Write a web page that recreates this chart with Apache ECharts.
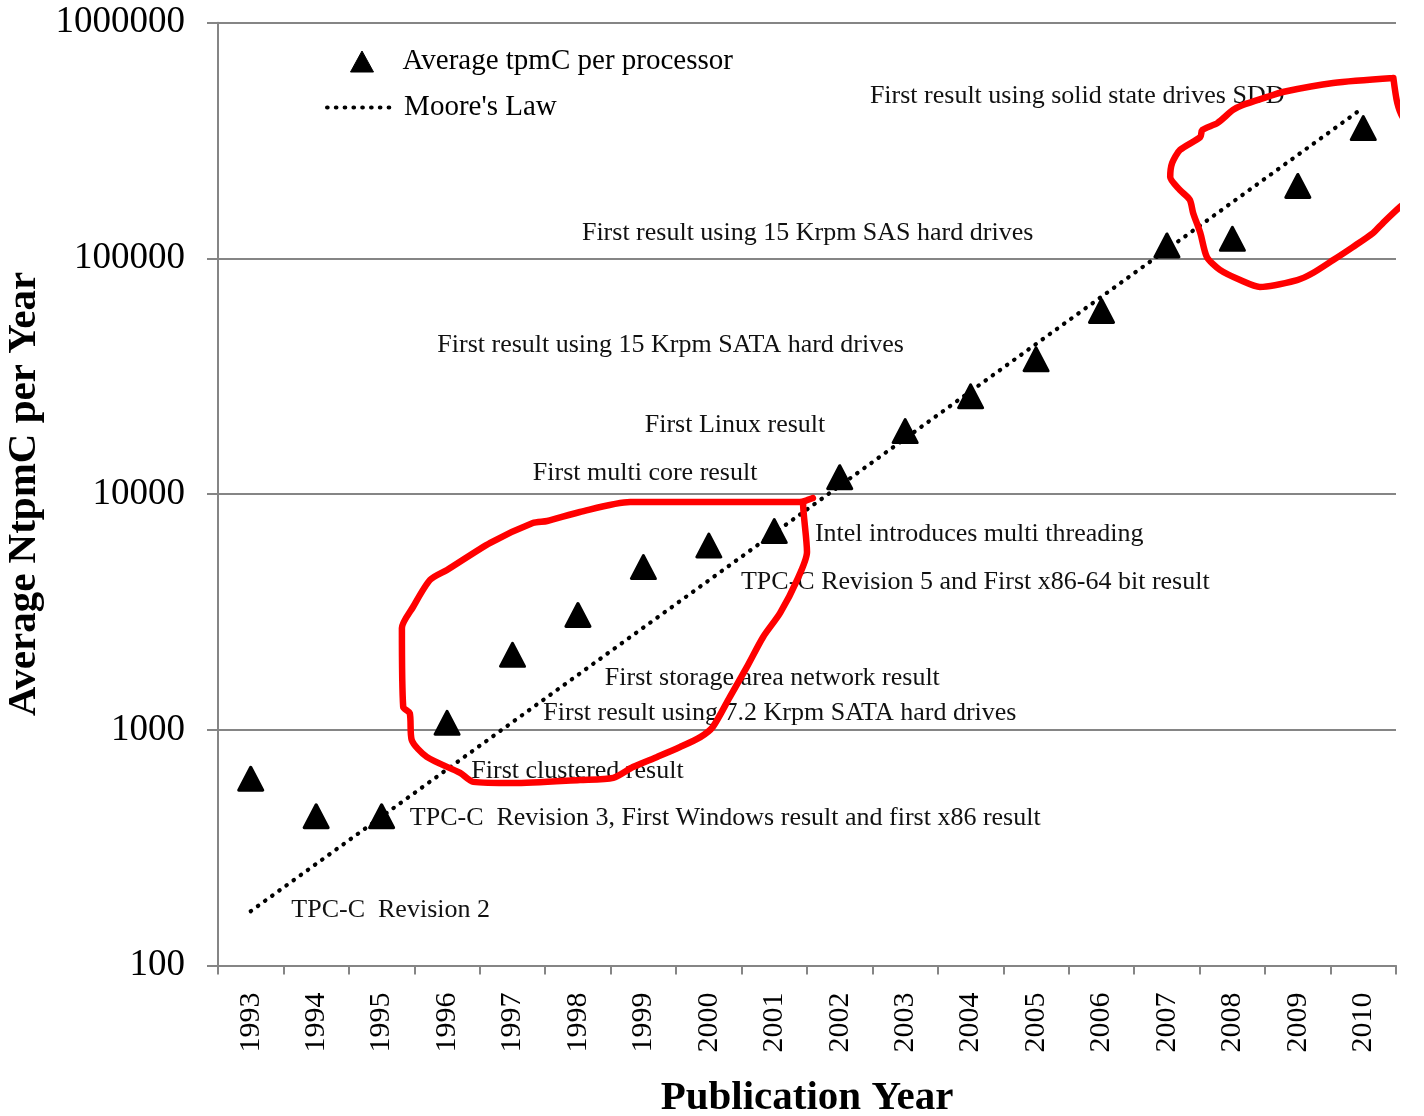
<!DOCTYPE html>
<html>
<head>
<meta charset="utf-8">
<title>Average NtpmC per Year</title>
<script src="https://cdn.jsdelivr.net/npm/echarts@6/dist/echarts.min.js"></script>
<style>
  html, body { margin: 0; padding: 0; width: 1424px; height: 1116px; background: #ffffff; overflow: hidden; }
  #chart { position: fixed; left: 0; top: 0; width: 1424px; height: 1116px; }
</style>
</head>
<body>
<div id="chart"></div>
<script>
// Publication years (category axis)
const years = ['1993', '1994', '1995', '1996', '1997', '1998', '1999', '2000', '2001',
  '2002', '2003', '2004', '2005', '2006', '2007', '2008', '2009', '2010'];

// Average tpmC per processor for each publication year
const tpmcPerProcessor = [620, 430, 430, 1070, 2080, 3070, 4900, 6050, 6970,
  11800, 18500, 26000, 37300, 59800, 113500, 121000, 203000, 357000];

// Moore's Law trend: start and end of the straight (log-scale) line
const mooreYears = [1993, 2010];
const mooreValues = [170, 436000];

// Y-axis decades
const yTicks = [100, 1000, 10000, 100000, 1000000];

// Milestone notes: text, anchored at [year, value]
const noteTexts = [
  'First result using solid state drives SDD',
  'First result using 15 Krpm SAS hard drives',
  'First result using 15 Krpm SATA hard drives',
  'First Linux result',
  'First multi core result',
  'Intel introduces multi threading',
  'TPC-C Revision 5 and First x86-64 bit result',
  'First storage area network result',
  'First result using 7.2 Krpm SATA hard drives',
  'First clustered result',
  'TPC-C  Revision 3, First Windows result and first x86 result',
  'TPC-C  Revision 2'
];
const noteYears = [2002.46, 1998.06, 1995.85, 1999.02, 1997.31, 2001.62, 2000.49,
  1998.41, 1997.47, 1996.37, 1995.43, 1993.62];
const noteValues = [489000, 128200, 42960, 19630, 12290, 6770, 4236,
  1659, 1178, 668, 423, 172];

// Hand-drawn highlight loops, as [year, log10(value)]
const loopEarly = [
  [2001.59, 3.983], [2001.39, 3.966], [1998.80, 3.966], [1998.03, 3.924], [1997.53, 3.886],
  [1997.31, 3.877], [1996.66, 3.793], [1996.00, 3.678], [1995.74, 3.636], [1995.48, 3.521],
  [1995.31, 3.432], [1995.33, 3.097], [1995.43, 3.071], [1995.46, 2.957], [1995.69, 2.885],
  [1996.20, 2.817], [1996.40, 2.779], [1997.01, 2.774], [1998.03, 2.787], [1998.54, 2.796],
  [1998.84, 2.842], [1999.21, 2.885], [1999.56, 2.927], [1999.87, 2.969], [2000.06, 3.012],
  [2000.32, 3.139], [2000.58, 3.266], [2000.83, 3.394], [2001.09, 3.496], [2001.35, 3.636],
  [2001.50, 3.754], [2001.44, 3.962], [2001.59, 3.983]
];
const loopLate = [
  [2010.46, 5.765], [2010.52, 5.659], [2010.61, 5.596], [2010.79, 5.553], [2010.87, 5.502],
  [2011.05, 5.396], [2010.90, 5.303], [2010.76, 5.261], [2010.56, 5.218], [2010.30, 5.150],
  [2010.15, 5.108], [2009.84, 5.048], [2009.54, 4.993], [2009.23, 4.938], [2008.99, 4.908],
  [2008.42, 4.879], [2008.12, 4.908], [2007.81, 4.951], [2007.61, 5.006], [2007.51, 5.108],
  [2007.40, 5.193], [2007.35, 5.248], [2007.20, 5.290], [2007.05, 5.345], [2007.08, 5.405],
  [2007.20, 5.460], [2007.51, 5.515], [2007.54, 5.545], [2007.77, 5.574], [2008.01, 5.630],
  [2008.16, 5.651], [2008.53, 5.685], [2008.77, 5.706], [2009.54, 5.744], [2010.46, 5.765]
];

const SERIF = '"Liberation Serif", "Times New Roman", serif';
const GRID_GRAY = '#858585';
const LEGEND_TEXT = { fontFamily: SERIF, fontSize: 29, color: '#000', lineHeight: 28 };
const TREND_LINE = { color: '#000', width: 4.2, type: [0.5, 8.3], cap: 'round' };

const toPoints = (loop) => loop.map(p => [p[0], Math.pow(10, p[1])]);

const chart = echarts.init(document.getElementById('chart'), null,
  { renderer: 'canvas', width: 1424, height: 1116 });

chart.setOption({
  backgroundColor: '#ffffff',
  animation: false,
  grid: {
    left: 218, right: 28, top: 22.7, bottom: 150.5,
    containLabel: false,
    outerBoundsMode: 'none'
  },
  legend: [
    {
      // marker entry
      left: 345,
      top: 42,
      itemWidth: 23,
      itemHeight: 21,
      selectedMode: false,
      data: ['Average tpmC per processor'],
      itemStyle: { borderWidth: 1 },
      textStyle: Object.assign({ padding: [0, 0, 0, 24] }, LEGEND_TEXT)
    },
    {
      // trend-line entry
      left: 320,
      top: 88,
      itemWidth: 66,
      itemHeight: 21,
      selectedMode: false,
      data: [{ name: "Moore's Law", itemStyle: { opacity: 0 } }],
      lineStyle: TREND_LINE,
      textStyle: Object.assign({ padding: [0, 0, 0, 6] }, LEGEND_TEXT)
    }
  ],
  xAxis: [
    {
      type: 'category',
      data: years,
      boundaryGap: true,
      axisLine: { lineStyle: { color: GRID_GRAY, width: 2 } },
      axisTick: { show: true, alignWithLabel: false, length: 9, lineStyle: { color: GRID_GRAY, width: 2 } },
      axisLabel: { rotate: 90, margin: 27, fontFamily: SERIF, fontSize: 30, color: '#000', interval: 0 },
      splitLine: { show: false },
      name: 'Publication Year',
      nameLocation: 'middle',
      nameGap: 112,
      nameTextStyle: { fontFamily: SERIF, fontSize: 41, fontWeight: 'bold', color: '#000' }
    },
    {
      type: 'value',
      min: 1992.5,
      max: 2010.5,
      show: false,
      gridIndex: 0
    }
  ],
  yAxis: {
    type: 'log',
    logBase: 10,
    min: yTicks[0],
    max: yTicks[yTicks.length - 1],
    axisLine: { show: true, lineStyle: { color: GRID_GRAY, width: 2 } },
    axisTick: { show: true, length: 11, lineStyle: { color: GRID_GRAY, width: 2 } },
    axisLabel: {
      margin: 33, fontFamily: SERIF, fontSize: 37, color: '#000',
      formatter: (v) => String(Math.round(v))
    },
    splitLine: { show: true, lineStyle: { color: GRID_GRAY, width: 2 } },
    name: 'Average NtpmC per Year',
    nameLocation: 'middle',
    nameGap: 160,
    nameTextStyle: { fontFamily: SERIF, fontSize: 41, fontWeight: 'bold', color: '#000' }
  },
  series: [
    {
      name: 'Average tpmC per processor',
      type: 'scatter',
      xAxisIndex: 0,
      data: tpmcPerProcessor,
      symbol: 'triangle',
      symbolSize: [24, 23],
      itemStyle: { color: '#000', borderColor: '#000', borderWidth: 3, borderJoin: 'round', opacity: 1 },
      emphasis: { disabled: true },
      z: 3
    },
    {
      name: "Moore's Law",
      type: 'line',
      xAxisIndex: 1,
      data: mooreYears.map((y, i) => [y, mooreValues[i]]),
      symbol: 'none',
      lineStyle: TREND_LINE,
      itemStyle: { color: '#000' },
      emphasis: { disabled: true },
      z: 4
    },
    {
      name: 'notes',
      type: 'scatter',
      xAxisIndex: 1,
      data: noteTexts.map((t, i) => ({ name: t, value: [noteYears[i], noteValues[i]] })),
      symbolSize: 0.1,
      itemStyle: { color: 'rgba(0,0,0,0)', opacity: 1 },
      label: {
        show: true,
        position: 'right',
        distance: 0,
        formatter: (p) => p.name,
        fontFamily: SERIF,
        fontSize: 26,
        color: '#111'
      },
      emphasis: { disabled: true },
      silent: true,
      z: 5
    },
    {
      name: 'loop-early',
      type: 'line',
      xAxisIndex: 1,
      data: toPoints(loopEarly),
      symbol: 'none',
      smooth: 0.25,
      clip: false,
      lineStyle: { color: '#ff0000', width: 6.5, cap: 'round', join: 'round' },
      emphasis: { disabled: true },
      silent: true,
      z: 10
    },
    {
      name: 'loop-late',
      type: 'line',
      xAxisIndex: 1,
      data: toPoints(loopLate),
      symbol: 'none',
      smooth: 0.25,
      clip: false,
      lineStyle: { color: '#ff0000', width: 6.5, cap: 'round', join: 'round' },
      emphasis: { disabled: true },
      silent: true,
      z: 10
    }
  ]
});
</script>
</body>
</html>
